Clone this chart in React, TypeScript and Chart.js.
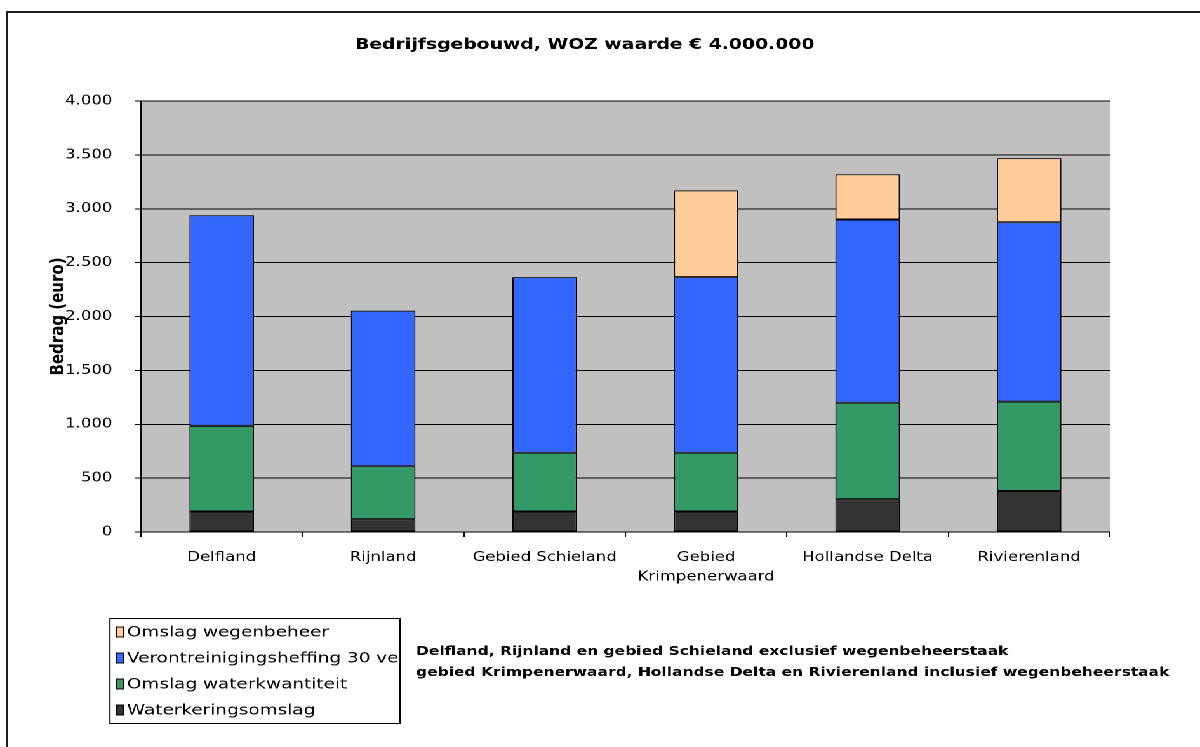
import React, { useEffect, useRef } from "react";
import { Chart, registerables } from "chart.js";

Chart.register(...registerables);

// ---- data ----
const categories: (string | string[])[] = [
  "Delfland",
  "Rijnland",
  "Gebied Schieland",
  ["Gebied", "Krimpenerwaard"],
  "Hollandse Delta",
  "Rivierenland",
];
const waterkeringsomslag = [190, 120, 190, 190, 305, 380];
const omslagWaterkwantiteit = [795, 490, 545, 545, 895, 830];
const verontreinigingsheffing = [1955, 1445, 1630, 1630, 1700, 1665];
const omslagWegenbeheer = [null, null, null, 805, 420, 595];
const seriesNames = [
  "Waterkeringsomslag",
  "Omslag waterkwantiteit",
  "Verontreinigingsheffing 30 ve",
  "Omslag wegenbeheer",
];
const seriesColors = ["#333333", "#339966", "#3366FF", "#FFCC99"];
const yMin = 0;
const yMax = 4000;
const yStep = 500;
const chartTitle = "Bedrijfsgebouwd, WOZ waarde € 4.000.000";
const yTitle = "Bedrag (euro)";
const notes = [
  "Delfland, Rijnland en gebied Schieland exclusief wegenbeheerstaak",
  "gebied Krimpenerwaard, Hollandse Delta en Rivierenland inclusief wegenbeheerstaak",
];

// ---- layout (logical canvas is stretched horizontally like the reference) ----
const LOGICAL_W = 945;
const H = 747;
const SX = 1200 / LOGICAL_W;
const FONT = "'DejaVu Sans', Verdana, sans-serif";

const fmt = (v: number) => String(v).replace(/\B(?=(\d{3})+(?!\d))/g, ".");

const decorPlugin = {
  id: "decor",
  beforeDraw(chart: any) {
    const { ctx, chartArea } = chart;
    ctx.save();
    ctx.fillStyle = "#ffffff";
    ctx.fillRect(0, 0, chart.width, chart.height);
    ctx.fillStyle = "#C0C0C0";
    ctx.fillRect(chartArea.left, chartArea.top, chartArea.right - chartArea.left, chartArea.bottom - chartArea.top);
    // outer frame (left + top visible)
    ctx.fillStyle = "#1e1e1e";
    ctx.fillRect(4.8, 11, 1.6, chart.height - 11);
    ctx.fillRect(4.8, 11, chart.width, 2);
    ctx.restore();
  },
  afterDraw(chart: any) {
    const { ctx, chartArea } = chart;
    ctx.save();
    // title
    ctx.fillStyle = "#000";
    ctx.font = `bold 14.8px ${FONT}`;
    ctx.textAlign = "center";
    ctx.textBaseline = "middle";
    ctx.fillText(chartTitle, 460.5, 45);

    // y axis title
    ctx.save();
    ctx.translate(46, (chartArea.top + chartArea.bottom) / 2);
    ctx.rotate(-Math.PI / 2);
    ctx.font = `bold 15px ${FONT}`;
    ctx.textAlign = "center";
    ctx.textBaseline = "middle";
    ctx.fillText(yTitle, 0, 0);
    ctx.restore();

    // legend box
    const bx = 86.6, by = 618, bw = 228.4, bh = 105;
    ctx.fillStyle = "#fff";
    ctx.fillRect(bx, by, bw, bh);
    ctx.strokeStyle = "#000";
    ctx.lineWidth = 1;
    ctx.strokeRect(bx, by + 0.5, bw, bh);
    ctx.save();
    ctx.beginPath();
    ctx.rect(bx, by, bw - 1, bh);
    ctx.clip();
    const ds = [...chart.data.datasets].reverse();
    ctx.font = `14.5px ${FONT}`;
    ctx.textAlign = "left";
    ctx.textBaseline = "middle";
    ds.forEach((d: any, i: number) => {
      const y = 632 + i * 26;
      ctx.fillStyle = d.backgroundColor;
      ctx.fillRect(92, y - 5, 5.5, 10);
      ctx.strokeStyle = "#000";
      ctx.strokeRect(92, y - 5, 5.5, 10);
      ctx.fillStyle = "#000";
      ctx.fillText(d.label, 100, y + 0.5);
    });
    ctx.restore();

    // notes
    ctx.fillStyle = "#000";
    ctx.font = `bold 12.2px ${FONT}`;
    ctx.textAlign = "left";
    ctx.textBaseline = "middle";
    notes.forEach((t, i) => ctx.fillText(t, 327.6, 652 + i * 21));
    ctx.restore();
  },
};

export default function App() {
  const ref = useRef<HTMLCanvasElement | null>(null);

  useEffect(() => {
    document.body.style.margin = "0";
    document.body.style.overflow = "hidden";
    const series = [waterkeringsomslag, omslagWaterkwantiteit, verontreinigingsheffing, omslagWegenbeheer];
    const chart = new Chart(ref.current as HTMLCanvasElement, {
      type: "bar",
      data: {
        labels: categories as any,
        datasets: series.map((s, i) => ({
          label: seriesNames[i],
          data: s as any,
          backgroundColor: seriesColors[i],
          borderColor: "#000",
          borderWidth: 1,
          borderSkipped: false,
          barPercentage: 0.4,
          categoryPercentage: 1,
          stack: "s",
        })),
      },
      options: {
        animation: false,
        responsive: true,
        maintainAspectRatio: false,
        devicePixelRatio: 2,
        layout: { padding: { top: 101, right: 71, bottom: 0, left: 0 } },
        plugins: {
          legend: { display: false },
          tooltip: { enabled: false },
          title: { display: false },
        },
        scales: {
          x: {
            stacked: true,
            offset: true,
            grid: {
              offset: true,
              drawOnChartArea: false,
              drawTicks: true,
              tickLength: 5,
              color: "#000",
            },
            border: { color: "#000", width: 1 },
            ticks: {
              color: "#000",
              font: { family: FONT, size: 13, lineHeight: 1.5 },
              padding: 11,
              maxRotation: 0,
              autoSkip: false,
            },
            afterFit: (s: any) => {
              s.height = 215;
            },
          },
          y: {
            stacked: true,
            min: yMin,
            max: yMax,
            grid: {
              color: "#000",
              lineWidth: 1,
              drawTicks: true,
              tickLength: 4.5,
            },
            border: { color: "#000", width: 1 },
            ticks: {
              stepSize: yStep,
              color: "#000",
              font: { family: FONT, size: 13 },
              padding: 18,
              callback: (v: any) => fmt(Number(v)),
            },
            afterFit: (s: any) => {
              s.width = 111;
            },
          },
        },
      },
      plugins: [decorPlugin],
    });
    return () => chart.destroy();
  }, []);

  return (
    <div
      style={{
        position: "absolute",
        left: 0,
        top: 0,
        width: LOGICAL_W + "px",
        height: H + "px",
        transform: `scaleX(${SX})`,
        transformOrigin: "0 0",
        background: "#fff",
      }}
    >
      <canvas ref={ref} />
    </div>
  );
}
